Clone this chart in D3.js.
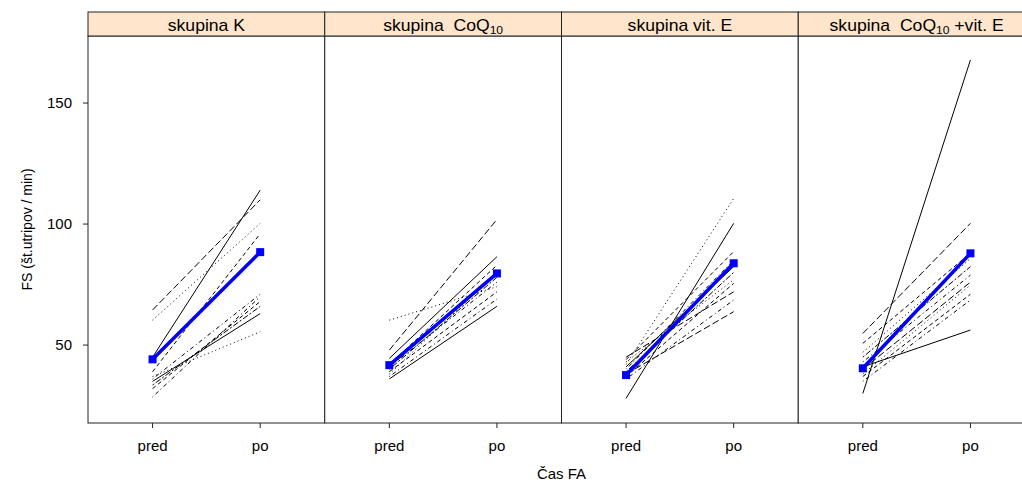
<!DOCTYPE html>
<html>
<head>
<meta charset="utf-8">
<script src="https://cdn.jsdelivr.net/npm/d3@7"></script>
<style>
  html, body { margin: 0; padding: 0; background: #ffffff; }
  svg { display: block; }
  text { font-family: "Liberation Sans", Arial, sans-serif; fill: #000; }
</style>
</head>
<body>
<svg id="chart" width="1022" height="483"></svg>
<script>
// ---- data ----
const groups = ["skupina K", "skupina CoQ10", "skupina vit. E", "skupina CoQ10 +vit. E"];
const timeLabels = ["pred", "po"];
const yTicks = [50, 100, 150];

const predK  = [45, 39, 60.3, 36, 64.5, 33.5, 35, 32, 37, 28.6];
const poK    = [114, 96, 100.3, 71, 110, 66, 63, 68, 55.5, 70];

const predCoQ = [44.5, 42, 60.3, 41, 47.9, 40, 36, 39, 38, 37];
const poCoQ   = [86.5, 83, 74.1, 76, 101.9, 78, 66, 72, 80, 69];

const predE = [28, 44, 42, 40, 38, 39, 41, 37, 43, 36, 45];
const poE   = [100.3, 88.6, 110.6, 85, 63.8, 80, 82.4, 75.5, 77, 68.6, 72];

const predCoQE = [30, 50.7, 47, 43, 54.8, 45, 41, 37, 38, 35, 40];
const poCoQE   = [167.8, 88, 85.8, 78.9, 100.3, 82.4, 56.2, 71, 74.8, 68.6, 76];

const meanPred = [44.1, 41.7, 37.6, 40.4];
const meanPo   = [88.4, 79.6, 83.8, 87.9];

const predByGroup = [predK, predCoQ, predE, predCoQE];
const poByGroup   = [poK, poCoQ, poE, poCoQE];

// ---- layout ----
const svg = d3.select("#chart");
const mLeft = 88, panelW = 236.75, pTop = 36, pBottom = 423, stripH = 24;
const dashes = [null, "4,3", "1,3", "1,3,4,3", "7,3", "2,2,6,2"];

const y = d3.scaleLinear().domain([17.8, 177.7]).range([pBottom, pTop]);
const x = d3.scalePoint().domain(timeLabels).range([0, panelW]).padding(0.6);
const line = d3.line().x(d => x(d.t)).y(d => y(d.v));

groups.forEach((g, gi) => {
  const px = mLeft + gi * panelW;
  const p = svg.append("g").attr("transform", `translate(${px},0)`);

  p.append("rect").attr("x", 0).attr("y", pTop).attr("width", panelW).attr("height", pBottom - pTop)
    .attr("fill", "#fff");

  const pr = predByGroup[gi], po = poByGroup[gi];
  pr.forEach((v, i) => {
    const pts = [{t: "pred", v: v}, {t: "po", v: po[i]}];
    p.append("path").attr("d", line(pts)).attr("fill", "none")
      .attr("stroke", "#000").attr("stroke-width", 1)
      .attr("stroke-dasharray", dashes[i % dashes.length]);
  });

  const mpts = [{t: "pred", v: meanPred[gi]}, {t: "po", v: meanPo[gi]}];
  p.append("path").attr("d", line(mpts)).attr("fill", "none")
    .attr("stroke", "#0000FF").attr("stroke-width", 3.5);
  p.selectAll("rect.m").data(mpts).enter().append("rect").attr("class", "m")
    .attr("x", d => x(d.t) - 4).attr("y", d => y(d.v) - 4)
    .attr("width", 8).attr("height", 8).attr("fill", "#0000FF");

  p.append("rect").attr("x", 0).attr("y", pTop).attr("width", panelW).attr("height", pBottom - pTop)
    .attr("fill", "none").attr("stroke", "#222").attr("stroke-width", 1);

  p.append("rect").attr("x", 0).attr("y", pTop - stripH).attr("width", panelW).attr("height", stripH)
    .attr("fill", "#FFE5CC").attr("stroke", "#222").attr("stroke-width", 1);
  const st = p.append("text").attr("text-anchor", "middle")
    .attr("transform", `translate(${panelW / 2},${pTop - 5}) scale(1.1,1)`)
    .style("font-size", "16px");
  const parts = g.split("CoQ10");
  if (parts.length === 1) {
    st.text(g);
  } else {
    st.append("tspan").text(parts[0] + "\u00a0CoQ");
    st.append("tspan").attr("dy", 3).style("font-size", "11px").text("10");
    st.append("tspan").attr("dy", -3).text(parts[1]);
  }

  const xa = p.append("g").attr("transform", `translate(0,${pBottom})`);
  timeLabels.forEach(t => {
    xa.append("line").attr("x1", x(t)).attr("x2", x(t)).attr("y1", 0).attr("y2", 5)
      .attr("stroke", "#222");
    xa.append("text").attr("x", x(t)).attr("y", 28).attr("text-anchor", "middle")
      .style("font-size", "15px").text(t);
  });
});

const ya = svg.append("g").attr("transform", `translate(${mLeft},0)`);
yTicks.forEach(v => {
  ya.append("line").attr("x1", -5).attr("x2", 0).attr("y1", y(v)).attr("y2", y(v)).attr("stroke", "#222");
  ya.append("text").attr("x", -16).attr("y", y(v)).attr("dy", "0.35em")
    .attr("text-anchor", "end").style("font-size", "15px").text(v);
});

svg.append("text").attr("text-anchor", "middle")
  .attr("transform", `translate(32,${(pTop + pBottom) / 2}) rotate(-90)`)
  .style("font-size", "14px").text("FS (št.utripov / min)");
svg.append("text").attr("x", mLeft + 2 * panelW).attr("y", 479).attr("text-anchor", "middle")
  .style("font-size", "15px").text("Čas FA");
</script>
</body>
</html>
